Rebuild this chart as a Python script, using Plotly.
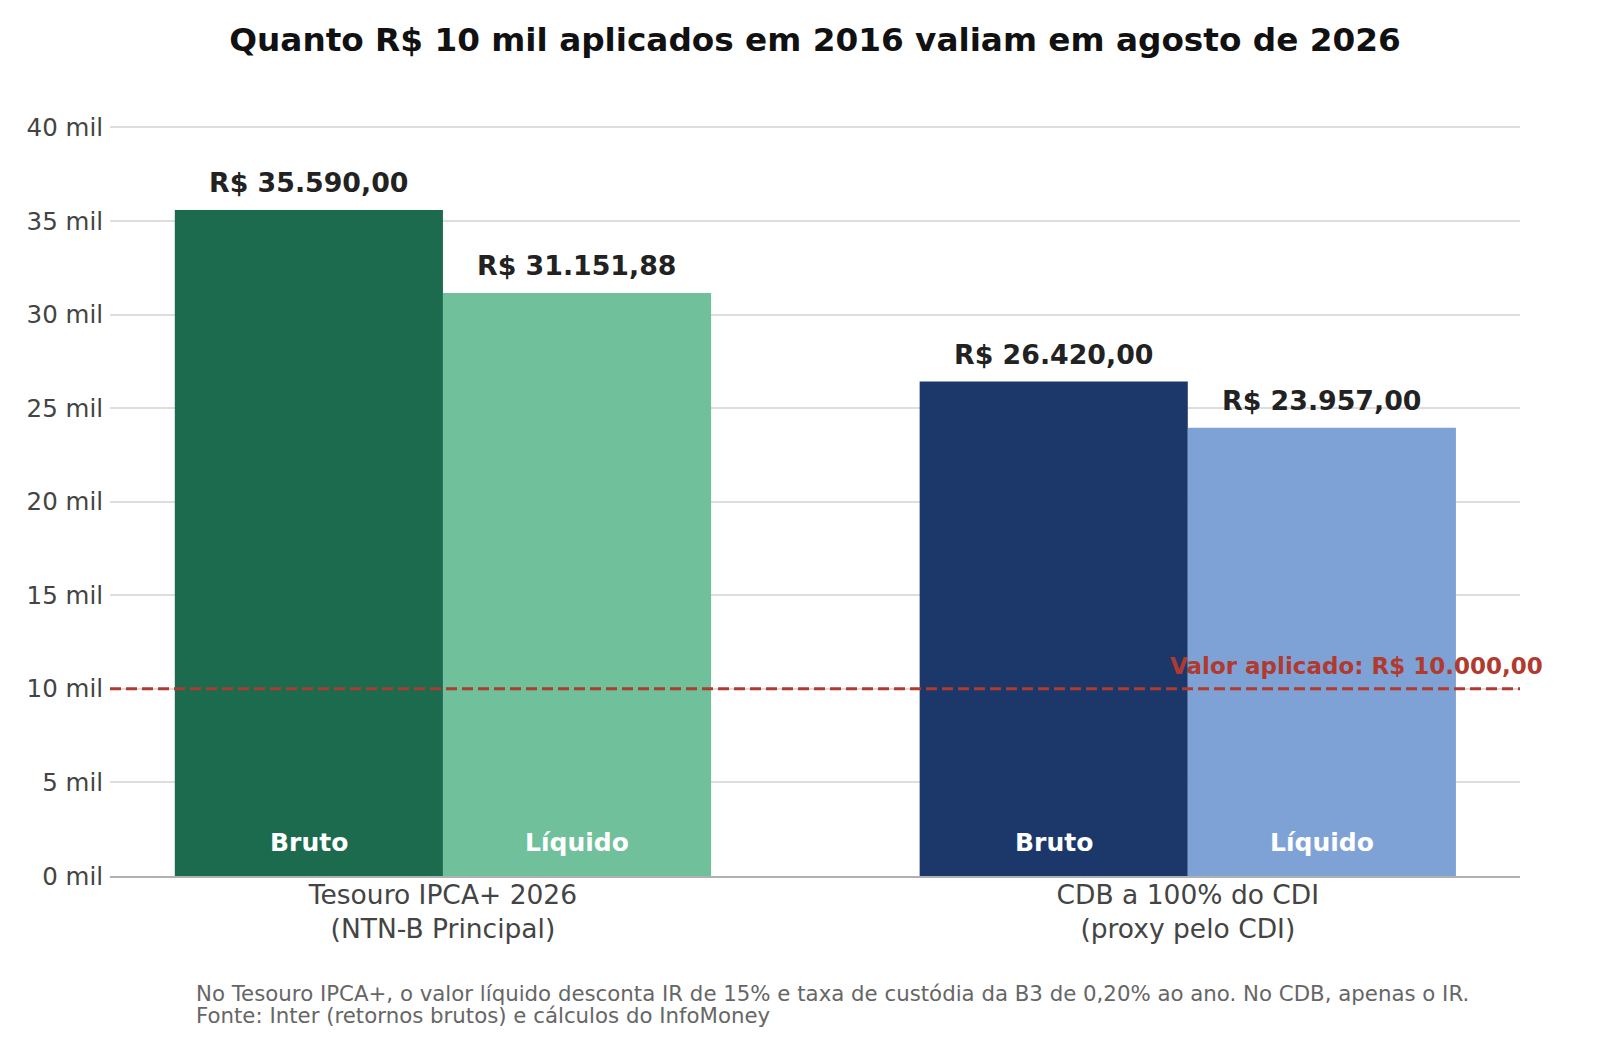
import plotly.graph_objects as go

# dados
categorias = ["Tesouro IPCA+ 2026<br>(NTN-B Principal)", "CDB a 100% do CDI<br>(proxy pelo CDI)"]
bruto = [35590.00, 26420.00]
liquido = [31151.88, 23957.00]
valor_aplicado = 10000.00
cores_bruto = ["#1d6b4e", "#1c386b"]
cores_liquido = ["#70c09b", "#7fa2d6"]
ticks_y = [0, 5000, 10000, 15000, 20000, 25000, 30000, 35000, 40000]
ticks_y_txt = [f"{int(v / 1000)} mil" for v in ticks_y]
notas = [
    "No Tesouro IPCA+, o valor líquido desconta IR de 15% e taxa de custódia da B3 de 0,20% ao ano. No CDB, apenas o IR.",
    "Fonte: Inter (retornos brutos) e cálculos do InfoMoney",
]

FONT = "DejaVu Sans"


def brl(v):
    s = f"{v:,.2f}".replace(",", "X").replace(".", ",").replace("X", ".")
    return "R$ " + s


fig = go.Figure()
fig.add_trace(go.Bar(x=categorias, y=bruto, name="Bruto",
                     marker=dict(color=cores_bruto, line=dict(width=0))))
fig.add_trace(go.Bar(x=categorias, y=liquido, name="Líquido",
                     marker=dict(color=cores_liquido, line=dict(width=0))))

# rótulos: valores em cima, nome da série dentro da barra
off = 0.18
for i in range(len(categorias)):
    for serie, vals, dx in (("Bruto", bruto, -off), ("Líquido", liquido, off)):
        fig.add_annotation(x=i + dx, y=vals[i], text="<b>" + brl(vals[i]) + "</b>",
                           showarrow=False, yanchor="bottom", yshift=10,
                           font=dict(family=FONT, size=26.8, color="#222222"))
        fig.add_annotation(x=i + dx, y=0, text="<b>" + serie + "</b>",
                           showarrow=False, yanchor="middle", yshift=34,
                           font=dict(family=FONT, size=25, color="white"))

# linha do valor aplicado
fig.add_shape(type="line", xref="paper", x0=0, x1=1, y0=valor_aplicado, y1=valor_aplicado,
              line=dict(color="#b03a2e", width=3, dash="11px,5px"))
fig.add_annotation(xref="paper", x=1.0177, y=valor_aplicado, xanchor="right", yanchor="bottom",
                   yshift=8, showarrow=False, text="<b>Valor aplicado: " + brl(valor_aplicado) + "</b>",
                   font=dict(family=FONT, size=23, color="#b03a2e"))

# notas de rodapé
for nota, yy in zip(notas, [-0.1489, -0.1781]):
    fig.add_annotation(xref="paper", yref="paper", x=0.0596, y=yy, xanchor="left", yanchor="middle",
                       showarrow=False, text=nota,
                       font=dict(family=FONT, size=21.3, color="#666666"))

fig.update_layout(
    width=1600, height=1048,
    margin=dict(l=110, r=80, t=90, b=172),
    paper_bgcolor="white", plot_bgcolor="white",
    barmode="group", bargap=0.28, bargroupgap=0,
    showlegend=False,
    font=dict(family=FONT),
    title=dict(text="<b>Quanto R$ 10 mil aplicados em 2016 valiam em agosto de 2026</b>",
               x=0.5, xref="paper", y=1 - 40 / 1048, yanchor="middle",
               font=dict(family=FONT, size=32.7, color="#111111")),
)
fig.update_xaxes(range=[-0.447, 1.446], showline=True, linecolor="#b0b0b0", linewidth=1.5,
                 showgrid=False, ticks="", ticklabelstandoff=-6,
                 tickfont=dict(family=FONT, size=26.5, color="#444444"))
fig.update_yaxes(range=[0, 42000], tickvals=ticks_y, ticktext=ticks_y_txt, showgrid=True,
                 gridcolor="#dddddd", gridwidth=1.5, zeroline=False, ticks="", ticklabelstandoff=6,
                 tickfont=dict(family=FONT, size=24.5, color="#444444"))

fig.write_html("out.html", config={"displayModeBar": False},
               post_script="document.body.style.margin='0';document.body.style.overflow='hidden';")
